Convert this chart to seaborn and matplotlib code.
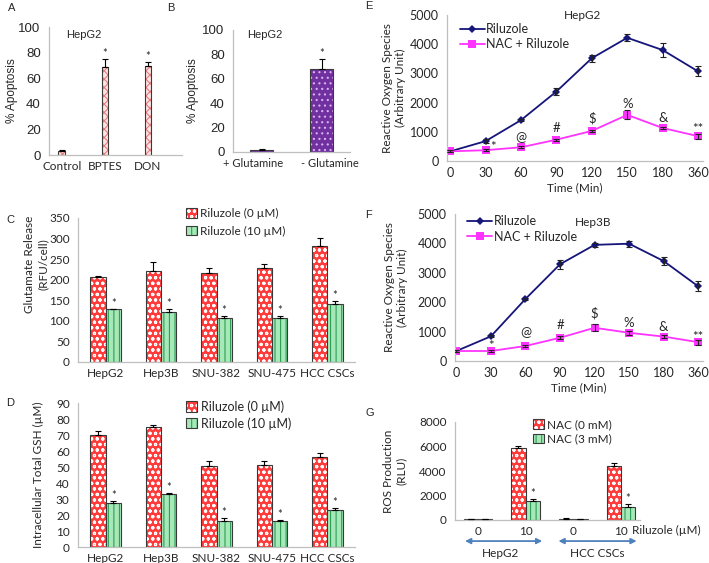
import numpy as np
import pandas as pd
import matplotlib
matplotlib.use("Agg")
import matplotlib.pyplot as plt
import matplotlib.patches as mpatches
import matplotlib.colors as mcolors
import matplotlib.transforms as mtransforms
import seaborn as sns

# ---------------- data ----------------
a_cats = ["Control", "BPTES", "DON"]
a_vals = [3, 69, 69.5]
a_err = [1, 6, 3]

b_cats = ["+ Glutamine", "- Glutamine"]
b_vals = [2, 68]
b_err = [0.6, 8]

cell_lines = ["HepG2", "Hep3B", "SNU-382", "SNU-475", "HCC CSCs"]
ril_levels = ["Riluzole (0 \u00b5M)", "Riluzole (10 \u00b5M)"]
c_ril0 = [206, 222, 217, 228, 282]
c_ril0_err = [4, 22, 11, 10, 20]
c_ril10 = [128, 122, 106, 106, 140]
c_ril10_err = [2, 8, 5, 5, 9]

d_ril0 = [70, 75, 50.5, 51.5, 56]
d_ril0_err = [2.5, 1.5, 3.5, 2.5, 3]
d_ril10 = [27.5, 33, 16.5, 16, 23]
d_ril10_err = [1.5, 0.8, 1.5, 1.0, 1.3]

times = ["0", "30", "60", "90", "120", "150", "180", "360"]
line_names = ["Riluzole", "NAC + Riluzole"]
e_ril = [330, 680, 1400, 2380, 3520, 4220, 3800, 3070]
e_ril_err = [30, 60, 40, 120, 120, 120, 250, 170]
e_nac = [330, 370, 470, 730, 1030, 1580, 1130, 850]
e_nac_err = [30, 30, 40, 40, 40, 150, 50, 80]
e_marks = ["", "*", "@", "#", "$", "%", "&", "**"]
e_mark_y = [0, 480, 820, 1130, 1470, 1950, 1470, 1080]

f_ril = [340, 840, 2110, 3290, 3950, 3990, 3400, 2540]
f_ril_err = [30, 40, 40, 150, 70, 100, 150, 170]
f_nac = [340, 340, 510, 790, 1130, 960, 830, 640]
f_nac_err = [30, 30, 40, 50, 120, 60, 50, 80]
f_marks = ["", "*", "@", "#", "$", "%", "&", "**"]
f_mark_y = [0, 520, 990, 1220, 1630, 1290, 1160, 830]

g_groups = ["HepG2 0", "HepG2 10", "HCC CSCs 0", "HCC CSCs 10"]
g_ticklabels = ["0", "10", "0", "10"]
nac_levels = ["NAC (0 mM)", "NAC (3 mM)"]
g_nac0 = [100, 5880, 120, 4430]
g_nac0_err = [20, 200, 20, 220]
g_nac3 = [80, 1530, 70, 1100]
g_nac3_err = [15, 200, 15, 200]
g_star = [False, True, False, True]

# ---------------- style ----------------
sns.set_style("white")
plt.rcParams["font.family"] = ["Lato", "DejaVu Sans"]
plt.rcParams["hatch.linewidth"] = 0.8
ARIAL = ["Liberation Sans", "DejaVu Sans"]
GRAY = "#BFBFBF"
EDGE = "#3a3a3a"
FS = 8.5

W, H = 709, 563
fig = plt.figure(figsize=(W / 100, H / 100), dpi=100)


def px_axes(l, t, r, b):
    return fig.add_axes([l / W, 1 - b / H, (r - l) / W, (b - t) / H])


def base_style(ax, yfont=None, ysize=FS):
    sns.despine(ax=ax)
    for s in ["left", "bottom"]:
        ax.spines[s].set_color(GRAY)
        ax.spines[s].set_linewidth(0.9)
    ax.tick_params(axis="y", length=3, color=GRAY, width=0.8, labelsize=ysize, pad=3)
    ax.tick_params(axis="x", length=0, labelsize=FS, pad=4)
    if yfont:
        for t in ax.get_yticklabels():
            t.set_family(yfont)
    ax.set_xlabel("")


def style_patch(p, face, hatch, hcolor, edge=EDGE, lw=0.8):
    p.set_facecolor(face)
    p.set_hatch(hatch)
    p.set_edgecolor(edge)
    p.set_linewidth(lw)
    if hasattr(p, "set_hatchcolor"):
        p.set_hatchcolor(hcolor)
    else:
        p._hatch_color = mcolors.to_rgba(hcolor)


RED = dict(face="#FF3B3B", hatch="ooo", hcolor="white")
GREEN = dict(face="#A6E8B8", hatch="|||", hcolor="#2F9E57")
PINK = dict(face="#FDE3E3", hatch="xxxx", hcolor="#E87C7C")
PURPLE = dict(face="#7030A0", hatch="...", hcolor="#D9B3F0")


def add_err(ax, bars, errs, stars=None, fs=8):
    for i, (p, e) in enumerate(zip(bars, errs)):
        x = p.get_x() + p.get_width() / 2
        h = p.get_height()
        ax.errorbar(x, h, yerr=[[0], [e]], fmt="none", ecolor="black",
                    elinewidth=0.8, capsize=2.5, capthick=0.8, zorder=5)
        if stars is not None and stars[i]:
            ax.annotate("*", (x, h + e), xytext=(0, 0), textcoords="offset points",
                        ha="center", va="bottom", fontsize=fs)


# ---------------- Panel A ----------------
axA = px_axes(49, 27, 182, 155)
sns.barplot(x=a_cats, y=a_vals, order=a_cats, width=0.16, color=PINK["face"],
            errorbar=None, ax=axA)
for p in axA.containers[0]:
    style_patch(p, **PINK)
add_err(axA, axA.containers[0], a_err, stars=[False, True, True])
axA.set_ylim(0, 100)
axA.set_yticks(range(0, 101, 20))
axA.set_xlim(-0.3, 2.79)
base_style(axA, yfont=ARIAL, ysize=9.5)
axA.set_ylabel("% Apoptosis", family=ARIAL, fontsize=8.5, va="center")
axA.yaxis.set_label_coords((12 - 49) / 133, 0.5)
axA.text(0.26, 0.94, "HepG2", transform=axA.transAxes, ha="center", va="center",
         family=ARIAL, fontsize=8)

# ---------------- Panel B ----------------
axB = px_axes(233, 30, 350, 152)
sns.barplot(x=b_cats, y=b_vals, order=b_cats, width=0.38, color=PURPLE["face"],
            errorbar=None, ax=axB)
for p in axB.containers[0]:
    style_patch(p, **PURPLE)
add_err(axB, axB.containers[0], b_err, stars=[False, True])
axB.set_ylim(0, 100)
axB.set_yticks(range(0, 101, 20))
axB.set_xlim(-0.48, 1.47)
base_style(axB, yfont=ARIAL, ysize=9.5)
axB.tick_params(axis="x", labelsize=8)
for lab, dx in zip(axB.get_xticklabels(), [-9, 8]):
    lab.set_transform(lab.get_transform() +
                      mtransforms.ScaledTranslation(dx / 100, 0, fig.dpi_scale_trans))
axB.set_ylabel("% Apoptosis", family=ARIAL, fontsize=8.5, va="center")
axB.yaxis.set_label_coords((193 - 233) / 117, 0.5)
axB.text(0.27, 0.96, "HepG2", transform=axB.transAxes, ha="center", va="center",
         family=ARIAL, fontsize=8)


# ---------------- grouped bar helper ----------------
def grouped(ax, cats, levels, v0, e0, v1, e1, width, s0, s1, stars):
    df = pd.DataFrame({
        "cat": cats * 2,
        "level": [levels[0]] * len(cats) + [levels[1]] * len(cats),
        "value": list(v0) + list(v1),
    })
    sns.barplot(data=df, x="cat", y="value", hue="level", order=cats,
                hue_order=levels, width=width, errorbar=None, dodge=True, ax=ax,
                palette=[s0["face"], s1["face"]])
    if ax.get_legend() is not None:
        ax.get_legend().remove()
    for p in ax.containers[0]:
        style_patch(p, **s0)
    for p in ax.containers[1]:
        style_patch(p, **s1)
    add_err(ax, ax.containers[0], e0)
    add_err(ax, ax.containers[1], e1, stars=stars)
    handles = []
    for s, lab in zip([s0, s1], levels):
        h = mpatches.Patch(label=lab)
        style_patch(h, **s)
        handles.append(h)
    return handles


# ---------------- Panel C ----------------
axC = px_axes(78, 218, 355, 362)
hC = grouped(axC, cell_lines, ril_levels, c_ril0, c_ril0_err, c_ril10, c_ril10_err,
             0.55, RED, GREEN, [True] * 5)
axC.set_ylim(0, 350)
axC.set_yticks(range(0, 351, 50))
axC.set_xlim(-0.5, 4.5)
base_style(axC)
axC.set_ylabel("Glutamate Release\n(RFU/cell)", fontsize=FS, va="center", linespacing=1.3)
axC.yaxis.set_label_coords((36 - 78) / 277, 0.68)
axC.legend(handles=hC, loc="upper left", bbox_to_anchor=((186 - 78) / 277, 1.07),
           frameon=False, fontsize=FS, handlelength=0.9, handleheight=0.9,
           handletextpad=0.3, borderpad=0, labelspacing=0.55, borderaxespad=0)

# ---------------- Panel D ----------------
axD = px_axes(78, 403, 355, 547)
hD = grouped(axD, cell_lines, ril_levels, d_ril0, d_ril0_err, d_ril10, d_ril10_err,
             0.55, RED, GREEN, [True] * 5)
axD.set_ylim(0, 90)
axD.set_yticks(range(0, 91, 10))
axD.set_xlim(-0.5, 4.5)
base_style(axD)
axD.set_ylabel("Intracellular Total GSH (\u00b5M)", fontsize=FS, va="center")
axD.yaxis.set_label_coords((38 - 78) / 277, 0.5)
axD.legend(handles=hD, loc="upper left", bbox_to_anchor=((186 - 78) / 277, 1.02),
           frameon=False, fontsize=9, handlelength=0.9, handleheight=0.9,
           handletextpad=0.3, borderpad=0, labelspacing=0.35, borderaxespad=0)


# ---------------- line panels ----------------
def line_panel(ax, ril, ril_err, nac, nac_err, marks, mark_y, title, tpos, legpos, xlim,
               star_dx):
    pos = list(range(len(times)))
    sns.lineplot(x=pos, y=ril, ax=ax, color="#15157A", marker="D", markersize=4.5,
                 markeredgewidth=0, linewidth=1.3, label=line_names[0], sort=False)
    sns.lineplot(x=pos, y=nac, ax=ax, color="#FF33FF", marker="s", markersize=6,
                 markeredgewidth=0, linewidth=1.3, label=line_names[1], sort=False)
    ax.errorbar(pos, ril, yerr=ril_err, fmt="none", ecolor="#222222", elinewidth=0.8,
                capsize=2.5, capthick=0.8, zorder=4)
    ax.errorbar(pos, nac, yerr=nac_err, fmt="none", ecolor="#222222", elinewidth=0.8,
                capsize=2.5, capthick=0.8, zorder=4)
    for i, (m, y) in enumerate(zip(marks, mark_y)):
        if not m:
            continue
        dx = star_dx if m == "*" else 0
        ax.text(i + dx, y, m, ha="center", va="center", fontsize=9.5, zorder=6)
    ax.set_ylim(0, 5000)
    ax.set_yticks(range(0, 5001, 1000))
    ax.set_xticks(pos)
    ax.set_xticklabels(times)
    ax.set_xlim(*xlim)
    base_style(ax, ysize=9)
    ax.tick_params(axis="x", labelsize=9)
    ax.set_ylabel("Reactive Oxygen Species\n(Arbitrary Unit)", fontsize=8.5,
                  va="center", linespacing=1.15)
    ax.set_xlabel("Time (Min)", fontsize=FS, labelpad=3)
    ax.text(tpos[0], tpos[1], title, transform=ax.transAxes, ha="center",
            va="center", fontsize=FS)
    ax.legend(loc="upper left", bbox_to_anchor=legpos, frameon=False, fontsize=9,
              handlelength=2.0, handletextpad=0.1, borderpad=0, labelspacing=0.25,
              borderaxespad=0)


axE = px_axes(447, 15, 703, 161)
line_panel(axE, e_ril, e_ril_err, e_nac, e_nac_err, e_marks, e_mark_y, "HepG2",
           (0.53, 1.0), (0.05, 0.945), (-0.09, 7.14), 0.22)
axE.yaxis.set_label_coords((394 - 447) / 256, 0.5)

axF = px_axes(455, 214, 703, 361)
line_panel(axF, f_ril, f_ril_err, f_nac, f_nac_err, f_marks, f_mark_y, "Hep3B",
           (0.556, 0.94), (0.05, 0.99), (-0.04, 7.14), 0.0)
axF.yaxis.set_label_coords((396 - 455) / 248, 0.5)

# ---------------- Panel G ----------------
axG = px_axes(455, 422, 640, 520)
hG = grouped(axG, g_groups, nac_levels, g_nac0, g_nac0_err, g_nac3, g_nac3_err,
             0.6, RED, GREEN, g_star)
axG.set_ylim(0, 8000)
axG.set_yticks(range(0, 8001, 2000))
axG.set_xlim(-0.48, 3.4)
axG.set_xticks(range(len(g_groups)))
axG.set_xticklabels(g_ticklabels)
base_style(axG)
axG.set_ylabel("ROS Production\n(RLU)", fontsize=FS, va="center", linespacing=1.2)
axG.yaxis.set_label_coords((395 - 455) / 185, 0.5)
axG.legend(handles=hG, loc="upper left", bbox_to_anchor=((533 - 455) / 185, 1.03),
           frameon=False, fontsize=FS, handlelength=0.9, handleheight=0.9,
           handletextpad=0.3, borderpad=0, labelspacing=0.3, borderaxespad=0)
tG = axG.get_xaxis_transform()
axG.text(3.24, -0.105, "Riluzole (\u00b5M)", transform=tG, ha="left", va="center",
         fontsize=FS, clip_on=False)
for x0, x1, lab, lx in [(-0.27, 1.35, "HepG2", 0.47), (1.69, 3.33, "HCC CSCs", 2.5)]:
    axG.annotate("", xy=(x0, -0.215), xytext=(x1, -0.215), xycoords=tG, textcoords=tG,
                 arrowprops=dict(arrowstyle="<|-|>", color="#4F81BD", lw=1.3,
                                 mutation_scale=8, shrinkA=0, shrinkB=0),
                 annotation_clip=False)
    axG.text(lx, -0.34, lab, transform=tG, ha="center", va="center", fontsize=FS)

# ---------------- panel letters ----------------
for lab, x, y in [("A", 8, 8), ("B", 167, 8), ("C", 6, 220), ("D", 6, 403),
                  ("E", 365, 6), ("F", 365, 215), ("G", 365, 413)]:
    fig.text(x / W, 1 - y / H, lab, ha="left", va="center", family=ARIAL, fontsize=8)

fig.savefig("out.png", dpi=100)
